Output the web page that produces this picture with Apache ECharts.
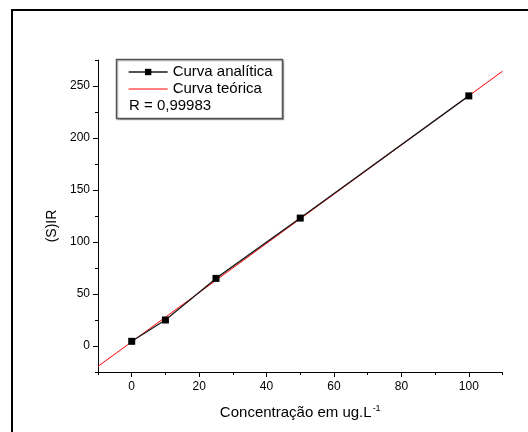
<!DOCTYPE html>
<html>
<head>
<meta charset="utf-8">
<script src="https://cdn.jsdelivr.net/npm/echarts@6/dist/echarts.min.js"></script>
<style>
  html, body { margin: 0; padding: 0; background: #fff; }
  #chart { width: 528px; height: 432px; }
</style>
</head>
<body>
<div id="chart"></div>
<script>
// Calibration data: concentration (ug/L) vs. signal
const concentracao = [0, 10, 25, 50, 100];
const sinalAnalitico = [4.5, 25, 65, 123, 240.5];

// Theoretical calibration line, end points across the x range
const teoricaX = [-10, 110];
const teoricaY = [-19.6, 264.2];

// Tick labels
const xTicks = [0, 20, 40, 60, 80, 100];
const yTicks = [0, 50, 100, 150, 200, 250];

const coeficienteR = 'R = 0,99983';

const FONT = '"Liberation Sans", Arial, sans-serif';

const chart = echarts.init(document.getElementById('chart'), null, { renderer: 'canvas' });

const pares = (xs, ys) => xs.map((x, i) => [x, ys[i]]);

const eixoBase = {
  axisLine: { show: true, onZero: false, lineStyle: { color: '#000', width: 1 } },
  splitLine: { show: false }
};

chart.setOption({
  animation: false,
  backgroundColor: '#fff',
  grid: { left: 98, right: 25.5, top: 60, bottom: 60, containLabel: false },
  xAxis: [
    Object.assign({}, eixoBase, {
      type: 'value', min: -10, max: 110, position: 'bottom',
      name: 'Concentração em ug.L{sup|-1}',
      nameLocation: 'middle', nameGap: 32,
      nameTextStyle: {
        fontFamily: FONT, fontSize: 15, color: '#000',
        rich: { sup: { fontFamily: FONT, fontSize: 9, color: '#000', verticalAlign: 'top', padding: [0, 0, 8, 1] } }
      },
      axisTick: { show: true, inside: false, length: 5, customValues: xTicks, lineStyle: { color: '#000' } },
      axisLabel: { show: true, customValues: xTicks, margin: 9, fontFamily: FONT, fontSize: 12, color: '#000' }
    }),
    Object.assign({}, eixoBase, {
      type: 'value', min: -10, max: 110, interval: 10, position: 'bottom', offset: 0,
      axisLine: { show: false, onZero: false },
      axisTick: { show: true, inside: false, length: 3, lineStyle: { color: '#000' } },
      axisLabel: { show: false }
    })
  ],
  yAxis: [
    Object.assign({}, eixoBase, {
      type: 'value', min: -25, max: 275, position: 'left',
      name: '(S)IR',
      nameLocation: 'middle', nameGap: 33, nameRotate: 90,
      nameTextStyle: { fontFamily: FONT, fontSize: 14, color: '#000', padding: [0, 20, 0, 0] },
      axisTick: { show: true, inside: false, length: 5, customValues: yTicks, lineStyle: { color: '#000' } },
      axisLabel: { show: true, customValues: yTicks, margin: 8, fontFamily: FONT, fontSize: 12, color: '#000' }
    }),
    Object.assign({}, eixoBase, {
      type: 'value', min: -25, max: 275, interval: 25, position: 'left', offset: 0,
      axisLine: { show: false, onZero: false },
      axisTick: { show: true, inside: false, length: 3, lineStyle: { color: '#000' } },
      axisLabel: { show: false }
    })
  ],
  legend: {
    orient: 'vertical',
    left: 128, top: 63.5,
    padding: 0,
    itemWidth: 39, itemHeight: 8, itemGap: 0,
    textStyle: { fontFamily: FONT, fontSize: 15, color: '#000', lineHeight: 17 },
    data: [
      { name: 'Curva analítica', lineStyle: { width: 1.3 } },
      { name: 'Curva teórica', itemStyle: { opacity: 0 }, lineStyle: { width: 1 } }
    ]
  },
  series: [
    {
      name: 'Curva teórica',
      type: 'line',
      data: pares(teoricaX, teoricaY),
      symbol: 'none',
      z: 2,
      lineStyle: { color: '#ff0000', width: 1 },
      itemStyle: { color: '#ff0000' }
    },
    {
      name: 'Curva analítica',
      type: 'line',
      data: pares(concentracao, sinalAnalitico),
      symbol: 'rect', symbolSize: 7,
      z: 3,
      lineStyle: { color: '#1a1a1a', width: 1.3 },
      itemStyle: { color: '#000' }
    }
  ],
  graphic: [
    {
      type: 'rect', silent: true, z: -1,
      shape: { x: 12, y: 10, width: 700, height: 700 },
      style: { fill: 'none', stroke: '#000', lineWidth: 2 }
    },
    {
      type: 'rect', silent: true, z: 0,
      shape: { x: 116.5, y: 59.5, width: 166, height: 59 },
      style: { fill: '#fff', stroke: '#555', lineWidth: 1.5, shadowColor: 'rgba(0,0,0,0.25)', shadowBlur: 1, shadowOffsetX: 1, shadowOffsetY: 1 }
    },
    {
      type: 'text', silent: true, z: 1,
      x: 129, y: 106,
      style: { text: coeficienteR, fontFamily: FONT, fontSize: 15, fill: '#000', verticalAlign: 'middle', align: 'left' }
    }
  ]
});
</script>
</body>
</html>
